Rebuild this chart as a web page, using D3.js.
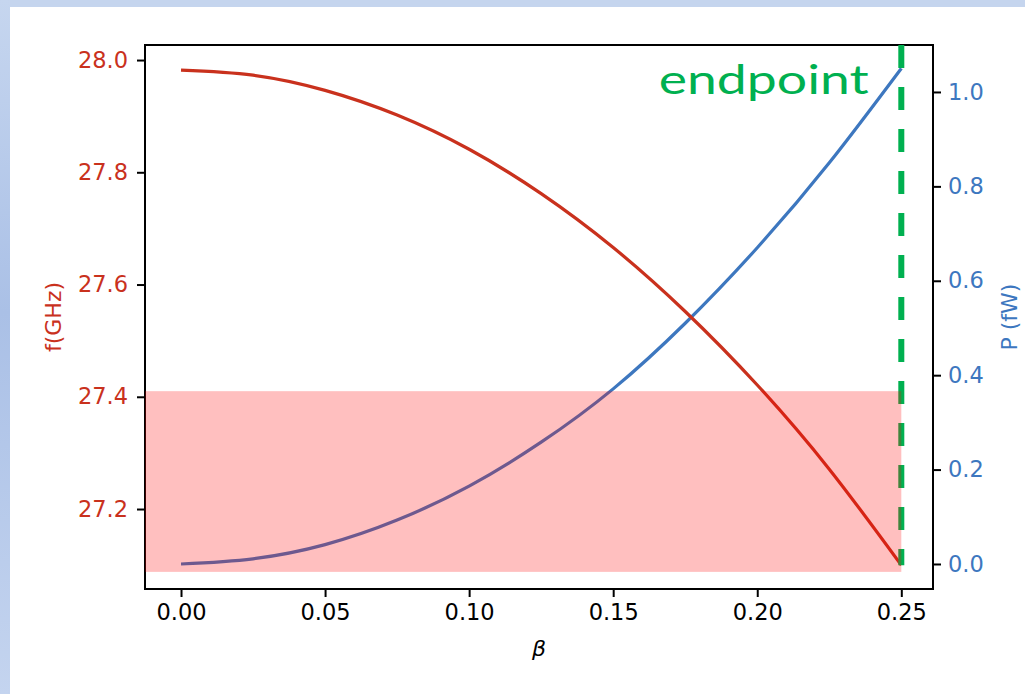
<!DOCTYPE html>
<html>
<head>
<meta charset="utf-8">
<script src="https://cdn.jsdelivr.net/npm/d3@7"></script>
<style>
  html, body { margin: 0; padding: 0; background: #c5d5ee; }
  svg { display: block; }
  text { font-family: 'DejaVu Sans', sans-serif; }
</style>
</head>
<body>
<div id="chart"></div>
<script>
// Data.
var beta = [0, 0.025, 0.05, 0.075, 0.1, 0.125, 0.15, 0.175, 0.2, 0.225, 0.25];
var freq = [27.982, 27.973, 27.946, 27.902, 27.841, 27.762, 27.666, 27.552, 27.421, 27.271, 27.100];
var power = [0, 0.011, 0.041, 0.093, 0.165, 0.258, 0.371, 0.510, 0.670, 0.850, 1.05];
var xTicks = [0, 0.05, 0.10, 0.15, 0.20, 0.25];
var fTicks = [27.2, 27.4, 27.6, 27.8, 28.0];
var pTicks = [0, 0.2, 0.4, 0.6, 0.8, 1.0];
var band = [27.088, 27.41];   // shaded frequency band
var endBeta = 0.25;

var W = 1025, H = 694;
var margin = {top: 45, right: 92, bottom: 105, left: 145},
    width = W - margin.left - margin.right,
    height = H - margin.top - margin.bottom;

var red = '#c9311d', blue = '#3d77bf', green = '#00b050';

var root = d3.select('#chart').append('svg')
    .attr('width', W)
    .attr('height', H);

// Page background: blue frame with a white panel.
var grad = root.append('defs').append('linearGradient')
    .attr('id', 'side').attr('x1', 0).attr('y1', 0).attr('x2', 0).attr('y2', 1);
grad.append('stop').attr('offset', '0%').attr('stop-color', '#c6d6ef');
grad.append('stop').attr('offset', '45%').attr('stop-color', '#aac0e6');
grad.append('stop').attr('offset', '100%').attr('stop-color', '#c4d4ef');
root.append('rect').attr('width', W).attr('height', H).attr('fill', '#c5d5ee');
root.append('rect').attr('width', 10).attr('height', H).attr('fill', 'url(#side)');
root.append('rect').attr('x', 10).attr('y', 7).attr('width', W - 10).attr('height', H - 7).attr('fill', '#fff');

var svg = root.append('g')
    .attr('transform', 'translate(' + margin.left + ',' + margin.top + ')');

// Scales.
var x = d3.scaleLinear().domain([-0.0125, 0.261]).range([0, width]);
var yF = d3.scaleLinear().domain([27.0575, 28.0268]).range([height, 0]);
var yP = d3.scaleLinear().domain([-0.053, 1.0995]).range([height, 0]);

// Axes.
var xAxis = svg.append('g')
    .attr('transform', 'translate(0,' + height + ')')
    .call(d3.axisBottom(x).tickValues(xTicks).tickFormat(d3.format('.2f'))
        .tickSize(8).tickSizeOuter(0).tickPadding(7));
var fAxis = svg.append('g')
    .call(d3.axisLeft(yF).tickValues(fTicks).tickFormat(d3.format('.1f'))
        .tickSize(8).tickSizeOuter(0).tickPadding(9));
var pAxis = svg.append('g')
    .attr('transform', 'translate(' + width + ',0)')
    .call(d3.axisRight(yP).tickValues(pTicks).tickFormat(d3.format('.1f'))
        .tickSize(8).tickSizeOuter(0).tickPadding(7));
[xAxis, fAxis, pAxis].forEach(function (a) {
    a.select('.domain').remove();
    a.selectAll('.tick line').attr('stroke', '#000').attr('stroke-width', 2);
    a.selectAll('.tick text').style('font-size', '22.5px').style('font-family', 'DejaVu Sans');
});
xAxis.selectAll('.tick text').attr('fill', '#000');
fAxis.selectAll('.tick text').attr('fill', red);
pAxis.selectAll('.tick text').attr('fill', blue);

// Frame.
svg.append('rect')
    .attr('width', width).attr('height', height)
    .attr('fill', 'none').attr('stroke', '#000').attr('stroke-width', 2);

// Curves.
var lineF = d3.line()
    .x(function (d, i) { return x(beta[i]); })
    .y(function (d) { return yF(d); })
    .curve(d3.curveNatural);
var lineP = d3.line()
    .x(function (d, i) { return x(beta[i]); })
    .y(function (d) { return yP(d); })
    .curve(d3.curveNatural);

svg.append('path').datum(power)
    .attr('d', lineP).attr('fill', 'none')
    .attr('stroke', blue).attr('stroke-width', 3.2);
svg.append('path').datum(freq)
    .attr('d', lineF).attr('fill', 'none')
    .attr('stroke', red).attr('stroke-width', 3.2);

// Dashed endpoint marker (from the top of the axes down to the last point).
svg.append('line')
    .attr('x1', x(endBeta)).attr('x2', x(endBeta))
    .attr('y1', 0).attr('y2', yF(freq[freq.length - 1]))
    .attr('stroke', green).attr('stroke-width', 6)
    .attr('stroke-dasharray', '23,19');

svg.append('text')
    .attr('x', x(0.1658)).attr('y', 49)
    .attr('textLength', 210).attr('lengthAdjust', 'spacingAndGlyphs')
    .style('font-family', 'Lato, sans-serif')
    .style('font-size', '41px')
    .attr('fill', green)
    .text('endpoint');

// Shaded band on top, semi-transparent.
svg.append('rect')
    .attr('x', x.range()[0])
    .attr('width', x(endBeta) - x.range()[0])
    .attr('y', yF(band[1]))
    .attr('height', yF(band[0]) - yF(band[1]))
    .attr('fill', '#ff0000').attr('fill-opacity', 0.25);

// Axis labels.
svg.append('text')
    .attr('transform', 'translate(-84,' + height / 2 + ') rotate(-90)')
    .attr('text-anchor', 'middle')
    .attr('fill', red).style('font-size', '22px')
    .text('f(GHz)');
svg.append('text')
    .attr('transform', 'translate(' + (width + 84) + ',' + height / 2 + ') rotate(-90)')
    .attr('text-anchor', 'middle')
    .attr('fill', blue).style('font-size', '22px')
    .text('P (fW)');
svg.append('text')
    .attr('x', width / 2).attr('y', height + 67)
    .attr('text-anchor', 'middle')
    .attr('fill', '#000').style('font-size', '22px').style('font-style', 'italic')
    .text('β');
</script>
</body>
</html>
